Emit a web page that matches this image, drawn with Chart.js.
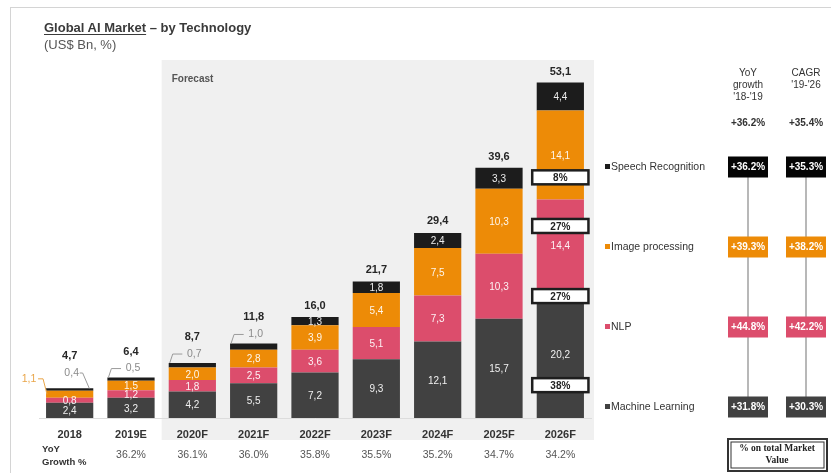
<!DOCTYPE html>
<html>
<head>
<meta charset="utf-8">
<script src="https://cdn.jsdelivr.net/npm/chart.js@4/dist/chart.umd.min.js"></script>
<style>
  html, body { margin: 0; padding: 0; background: #fff; }
  #wrap { position: relative; width: 831px; height: 473px; overflow: hidden; font-family: "Liberation Sans", Arial, sans-serif; }
  #frame { position: absolute; left: 10px; top: 7px; width: 830px; height: 470px; border-top: 1px solid #d4d4d4; border-left: 1px solid #d4d4d4; }
  #title { position: absolute; left: 44px; top: 20px; font-size: 13px; font-weight: bold; color: #3a3a3a; white-space: nowrap; }
  #title u { text-decoration-thickness: 1px; text-underline-offset: 2px; }
  #subtitle { position: absolute; left: 44px; top: 37px; font-size: 13px; color: #555; }
  canvas { position: absolute; left: 0; top: 0; }
</style>
</head>
<body>
<div id="wrap">
  <div id="frame"></div>
  <canvas id="chart" width="831" height="473"></canvas>
  <div id="title"><u>Global AI Market</u> – by Technology</div>
  <div id="subtitle">(US$ Bn, %)</div>
</div>
<script>
// Global AI market by technology, US$ Bn
const years = ['2018', '2019E', '2020F', '2021F', '2022F', '2023F', '2024F', '2025F', '2026F'];
const machineLearning   = [2.4, 3.2, 4.2, 5.5, 7.2, 9.3, 12.1, 15.7, 20.2];
const nlp               = [0.8, 1.2, 1.8, 2.5, 3.6, 5.1, 7.3, 10.3, 14.4];
const imageProcessing   = [1.1, 1.5, 2.0, 2.8, 3.9, 5.4, 7.5, 10.3, 14.1];
const speechRecognition = [0.4, 0.5, 0.7, 1.0, 1.3, 1.8, 2.4, 3.3, 4.4];
const totals            = [4.7, 6.4, 8.7, 11.8, 16.0, 21.7, 29.4, 39.6, 53.1];
const yoyGrowth         = ['', '36.2%', '36.1%', '36.0%', '35.8%', '35.5%', '35.2%', '34.7%', '34.2%'];

// growth table on the right (top to bottom: speech, image, nlp, ml)
const tableTechs  = ['Speech Recognition', 'Image processing', 'NLP', 'Machine Learning'];
const yoy1819     = ['+36.2%', '+39.3%', '+44.8%', '+31.8%'];
const cagr1926    = ['+35.3%', '+38.2%', '+42.2%', '+30.3%'];
const yoyTotal    = '+36.2%';
const cagrTotal   = '+35.4%';

const COLORS = {
  ml: '#414141',
  nlp: '#dc4d6c',
  image: '#ed8b07',
  speech: '#1c1c1c'
};
const FONT = '"Liberation Sans", Arial, sans-serif';

const fmt = v => v.toFixed(1).replace('.', ',');

const overlay = {
  id: 'overlay',
  beforeDraw(chart) {
    const { ctx, chartArea, scales: { x } } = chart;
    const step = x.getPixelForValue(1) - x.getPixelForValue(0);
    const left = x.getPixelForValue(2) - step / 2;
    ctx.save();
    // forecast shading
    ctx.fillStyle = '#f0f0f0';
    ctx.fillRect(left, chartArea.top + 21, chartArea.right + 3 - left, 440 - chartArea.top - 21);
    ctx.fillStyle = '#555';
    ctx.font = 'bold 10px ' + FONT;
    ctx.textBaseline = 'middle';
    ctx.fillText('Forecast', left + 10, chartArea.top + 40);
    ctx.restore();
  },
  afterDatasetsDraw(chart) {
    const { ctx, scales: { x, y } } = chart;
    ctx.save();
    ctx.textAlign = 'center';
    ctx.textBaseline = 'middle';

    // values inside the segments
    chart.data.datasets.forEach((ds, d) => {
      const meta = chart.getDatasetMeta(d);
      meta.data.forEach((bar, i) => {
        const v = ds.data[i];
        const h = Math.abs(bar.base - bar.y);
        if (ds.callout && h < 7) return;
        ctx.fillStyle = 'rgba(255,255,255,0.92)';
        ctx.font = '10px ' + FONT;
        ctx.fillText(fmt(v), bar.x, (bar.y + bar.base) / 2 + 1);
      });
    });

    // callouts for the thin segments, and the totals
    const imgMeta = chart.getDatasetMeta(2);
    const spMeta = chart.getDatasetMeta(3);
    ctx.lineWidth = 1;
    totals.forEach((t, i) => {
      const bar = spMeta.data[i];
      const half = bar.width / 2;
      const top = y.getPixelForValue(t);
      let totalY = top - 11;
      if (Math.abs(bar.base - bar.y) < 7) {
        const cy = Math.min(bar.y - 9, 373);
        ctx.strokeStyle = '#9a9a9a';
        ctx.fillStyle = '#8a8a8a';
        ctx.font = '10.5px ' + FONT;
        ctx.beginPath();
        if (i === 0) {
          // leader on the right side of the bar
          ctx.moveTo(bar.x + 10, cy);
          ctx.lineTo(bar.x + 13, cy);
          ctx.lineTo(bar.x + half - 4, bar.y);
        } else {
          ctx.moveTo(bar.x - half + 1, bar.y);
          ctx.lineTo(bar.x - half + 4, cy);
          ctx.lineTo(bar.x - 10, cy);
        }
        ctx.stroke();
        ctx.fillText(fmt(speechRecognition[i]), bar.x + 2, cy);
        totalY = cy - 17;
      }
      const ib = imgMeta.data[i];
      if (Math.abs(ib.base - ib.y) < 7) {
        const iy = ib.y - 12;
        const lx = ib.x - ib.width / 2;
        ctx.strokeStyle = '#e9a548';
        ctx.fillStyle = '#e9a548';
        ctx.beginPath();
        ctx.moveTo(lx - 8, iy);
        ctx.lineTo(lx - 3, iy);
        ctx.lineTo(lx + 1, (ib.y + ib.base) / 2);
        ctx.stroke();
        ctx.font = '10.5px ' + FONT;
        ctx.fillText(fmt(imageProcessing[i]), lx - 17, iy);
      }
      ctx.fillStyle = '#262626';
      ctx.font = 'bold 11px ' + FONT;
      ctx.fillText(fmt(t), bar.x, totalY);
    });

    // share of total on the last bar
    const last = totals.length - 1;
    const lastBar = spMeta.data[last];
    const shares = [speechRecognition, imageProcessing, nlp, machineLearning]
      .map(s => Math.round(s[last] / totals[last] * 100) + '%');
    const boxLevels = [38.1, 30.4, 19.3, 5.2];
    shares.forEach((s, k) => {
      const cy = y.getPixelForValue(boxLevels[k]);
      const w = lastBar.width + 9;
      ctx.fillStyle = '#fff';
      ctx.fillRect(lastBar.x - w / 2, cy - 7, w, 14);
      ctx.strokeStyle = '#1e1e1e';
      ctx.lineWidth = 2.5;
      ctx.strokeRect(lastBar.x - w / 2, cy - 7, w, 14);
      ctx.fillStyle = '#222';
      ctx.font = 'bold 10px ' + FONT;
      ctx.fillText(s, lastBar.x, cy + 1);
    });

    // growth row under the axis
    ctx.fillStyle = '#333';
    ctx.font = 'bold 9.5px ' + FONT;
    ctx.textAlign = 'left';
    ctx.fillText('YoY', 42, 449);
    ctx.fillText('Growth %', 42, 462);
    ctx.textAlign = 'center';
    ctx.fillStyle = '#555';
    ctx.font = '10.5px ' + FONT;
    yoyGrowth.forEach((g, i) => {
      if (g) ctx.fillText(g, x.getPixelForValue(i), 455);
    });
    ctx.restore();
  },
  afterDraw(chart) {
    const { ctx } = chart;
    const rows = [167, 247, 327, 407];
    const cols = [748, 806];
    const rowColors = [COLORS.speech, COLORS.image, COLORS.nlp, COLORS.ml];
    ctx.save();
    ctx.textBaseline = 'middle';

    // headers
    ctx.fillStyle = '#333';
    ctx.textAlign = 'center';
    ctx.font = '10px ' + FONT;
    ["YoY", "growth", "'18-'19"].forEach((t, k) => ctx.fillText(t, cols[0], 73 + k * 12));
    ["CAGR", "'19-'26"].forEach((t, k) => ctx.fillText(t, cols[1], 73 + k * 12));
    ctx.font = 'bold 10px ' + FONT;
    ctx.fillText(yoyTotal, cols[0], 123);
    ctx.fillText(cagrTotal, cols[1], 123);

    // connector lines
    ctx.strokeStyle = '#a0a0a0';
    ctx.lineWidth = 1.5;
    cols.forEach(cx => {
      ctx.beginPath();
      ctx.moveTo(cx, rows[0]);
      ctx.lineTo(cx, rows[rows.length - 1]);
      ctx.stroke();
    });

    rows.forEach((ry, k) => {
      // legend
      ctx.fillStyle = rowColors[k];
      ctx.fillRect(605, ry - 3, 5, 5);
      ctx.fillStyle = '#333';
      ctx.textAlign = 'left';
      ctx.font = '10.5px ' + FONT;
      ctx.fillText(tableTechs[k], 611, ry);
      // value boxes
      [yoy1819[k], cagr1926[k]].forEach((v, c) => {
        ctx.fillStyle = k === 0 ? '#050505' : rowColors[k];
        ctx.fillRect(cols[c] - 20, ry - 10.5, 40, 21);
        ctx.fillStyle = '#fff';
        ctx.textAlign = 'center';
        ctx.font = 'bold 10px ' + FONT;
        ctx.fillText(v, cols[c], ry + 0.5);
      });
    });

    // footnote box
    ctx.strokeStyle = '#333';
    ctx.lineWidth = 2;
    ctx.strokeRect(728, 439, 99, 32);
    ctx.lineWidth = 1;
    ctx.strokeRect(731, 442, 93, 26);
    ctx.fillStyle = '#222';
    ctx.font = 'bold 9.5px "Liberation Serif", "DejaVu Serif", serif';
    ctx.fillText('% on total Market', 777, 449);
    ctx.fillText('Value', 777, 461);
    ctx.restore();
  }
};

new Chart(document.getElementById('chart'), {
  type: 'bar',
  data: {
    labels: years,
    datasets: [
      { label: 'Machine Learning', data: machineLearning, backgroundColor: COLORS.ml },
      { label: 'NLP', data: nlp, backgroundColor: COLORS.nlp },
      { label: 'Image processing', data: imageProcessing, backgroundColor: COLORS.image, callout: true },
      { label: 'Speech Recognition', data: speechRecognition, backgroundColor: COLORS.speech, callout: true }
    ]
  },
  options: {
    responsive: false,
    animation: false,
    layout: { padding: { left: 39, right: 240, top: 39, bottom: 0 } },
    datasets: {
      bar: { categoryPercentage: 1, barPercentage: 0.77, borderWidth: 0 }
    },
    scales: {
      x: {
        stacked: true,
        grid: { display: false, drawTicks: false },
        border: { display: true, color: '#dcdcdc', width: 1 },
        ticks: { color: '#333', font: { family: FONT, size: 11, weight: 'bold' }, padding: 10 },
        afterFit: scale => { scale.height = 55; }
      },
      y: {
        stacked: true,
        display: false,
        min: 0,
        max: 60
      }
    },
    plugins: {
      legend: { display: false },
      tooltip: { enabled: false }
    }
  },
  plugins: [overlay]
});
</script>
</body>
</html>
